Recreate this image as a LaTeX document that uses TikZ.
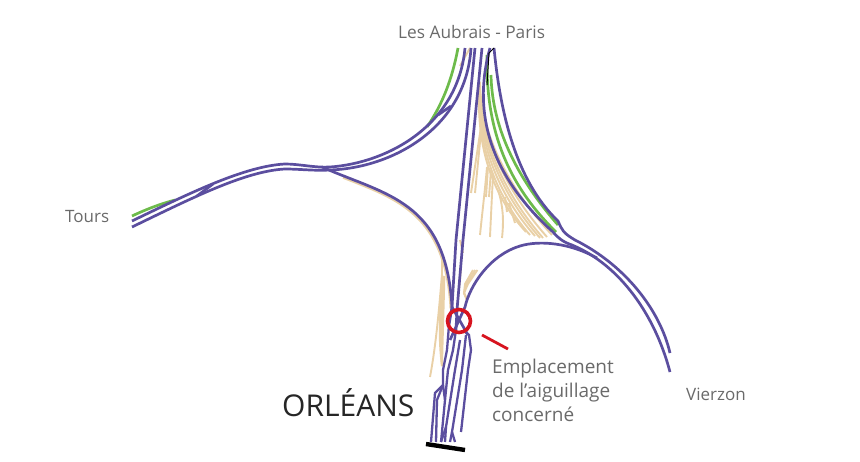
\documentclass[tikz,border=0pt]{standalone}
\usepackage{fontspec}
\setmainfont{Open Sans}
\usepackage{xcolor}
\usetikzlibrary{calc}
\definecolor{trkcol}{HTML}{5B4E9F}
\definecolor{grncol}{HTML}{6DBB4B}
\definecolor{sidcol}{HTML}{E9D0A6}
\definecolor{redcol}{HTML}{D7141F}
\definecolor{txtcol}{HTML}{6A6A6A}
\begin{document}
\begin{tikzpicture}[
  x=1pt, y=-1pt,
  trk/.style={draw=trkcol, line width=2.7pt},
  plat/.style={draw=trkcol, line width=2.3pt},
  grn/.style={draw=grncol, line width=2.7pt},
  sid/.style={draw=sidcol, line width=1.9pt},
  lbl/.style={text=txtcol, font=\fontsize{17}{24}\selectfont, align=left, inner sep=0pt},
]
\useasboundingbox (0,0) rectangle (860,462);

%============================ TAN SIDINGS ============================
\foreach \o/\ex/\ey in {0/552/235,1/547/237,2/543/238,3/540/238,4/535/236,5/530/235,6/526/232}
  \draw[sid] (480,82) .. controls ({480-.5*\o},{110+\o}) and ({490-2*\o},{168+2*\o}) .. (\ex,\ey);
\foreach \a/\b/\c/\d in {483/112/475/193, 482/120/471/193, 488/167/486/197, 491/170/489/197, 505/197/507/212, 509/203/515/223, 470/48/460/66}
  \draw[sid] (\a,\b) -- (\c,\d);
\draw[sid] (487,167) .. controls (485,190) and (482,215) .. (480,235);
\draw[sid] (493,175) .. controls (492,195) and (491,215) .. (490,237);
\draw[sid] (498,190) .. controls (503,205) and (504,220) .. (502,238);
% along the curve, then beside the junction
\draw[sid] (343,177.8) .. controls (397.3,199.2) and (445.2,214.3) .. (450.5,308.5);
\draw[sid] (442,258) -- (442,274) .. controls (439,310) and (436,345) .. (430,377);
\foreach \o in {1,2,3,4}
  \draw[sid] ({442+\o*.6},276) .. controls ({438+\o*1.4},310) and ({437+\o*1.4},340) .. (442,366);
\draw[sid] (460,240) -- (463,253);
\draw[sid] (461,268) -- (457,310);
\foreach \o in {0,1,2}
  \draw[sid] ({473+\o*2.2},270) -- ({465+\o*1.5},284) -- (464,293) -- (467,300);

%============================ GREEN ============================
\draw[grn] (132,216) .. controls (147,209) and (160,204) .. (175,200);
\draw[grn] (458,48) .. controls (452,80) and (442,105) .. (427,127);
\draw[grn] (487,55) .. controls (486,115) and (498,175) .. (556,232);
\draw[grn] (491,75) .. controls (492,120) and (510,170) .. (558,225);

%============================ PURPLE ============================
% Tours - Paris
\draw[trk] (132,221) .. controls (190,193) and (245,166) .. (285,164) .. controls (300,164) and (315,168) .. (330,167) .. controls (388,163) and (458,125) .. (465,48);
\draw[trk] (132,227) .. controls (190,199) and (245,171) .. (285,169) .. controls (300,169) and (315,171) .. (330,170) .. controls (392,168) and (466,128) .. (471,48);
\draw[trk] (197,196) -- (213,184);
\draw[trk] (438,115) -- (451,106);
% Tours branch down to the station
\draw[trk] (322,167) .. controls (385,195) and (446,200) .. (452,307) -- (449,325);
\draw[plat] (449,325) -- (447,350) -- (443,370) -- (443,385) -- (435,393) -- (431,442);
\draw[plat] (443,385) -- (437,400) -- (436,442);
% centre pair
\draw[trk] (475,48) -- (456,240) -- (452,307) -- (468,335);
\draw[trk] (482,48) -- (463,240) -- (457,310) -- (456,330);
\draw[plat] (456,330) -- (453,350) -- (448,370) -- (445,400) -- (441,442);
\draw[plat] (443,385) -- (445,400);
% Paris - Vierzon
\draw[trk] (494,48) .. controls (500,110) and (515,180) .. (558,221) .. controls (562,230) and (563,233) .. (575,240) .. controls (625,265) and (660,310) .. (670,353);
\draw[trk] (490,48) .. controls (474,105) and (484,170) .. (553,232) .. controls (558,238) and (563,242) .. (572,245) .. controls (620,265) and (655,315) .. (670,372);
% arc to the junction
\draw[trk] (597,258) .. controls (570,243) and (540,240) .. (520,246) .. controls (490,255) and (470,285) .. (465,307) -- (450,340);
% platform tracks
\draw[plat] (460,340) -- (455,370) -- (446,427) -- (445,442);
\draw[plat] (446,427) -- (441,442);
\draw[plat] (466,335) -- (462,370) -- (452,432) -- (450,442);
\draw[plat] (452,432) -- (455,442);
\draw[plat] (463,330) -- (469,335) -- (471,350) -- (468,370) -- (461,432);

%============================ BUFFER AND MARK ============================
\draw[black, line width=4.4pt] (426,444) -- (465,450);
\draw[black, line width=1pt] (487,85) -- (489,53) -- (494,48);
\node[draw=redcol, line width=3.6pt, circle, minimum size=23pt, inner sep=0pt] (mark) at (459,321) {};
\coordinate (leadA) at (482,335);
\coordinate (leadB) at (508,349);
\draw[redcol, line width=2.8pt] (leadA) -- (leadB);

%============================ LABELS ============================
\node[lbl, anchor=base west, font=\fontsize{17.3}{24}\selectfont] (paris) at (398,39) {Les Aubrais - Paris};
\node[lbl, anchor=base west] (tours) at (65,223) {Tours};
\node[lbl, anchor=base west] (vierzon) at (686,401) {Vierzon};
\node[lbl, anchor=base west, font=\fontsize{19}{24}\selectfont] (place) at (492,421) {Emplacement\\de l’aiguillage\\concerné};
\node[anchor=base west, inner sep=0pt, text=black!85, font=\fontsize{30}{32}\selectfont] (city) at (282,417) {ORLÉANS};
\end{tikzpicture}
\end{document}
